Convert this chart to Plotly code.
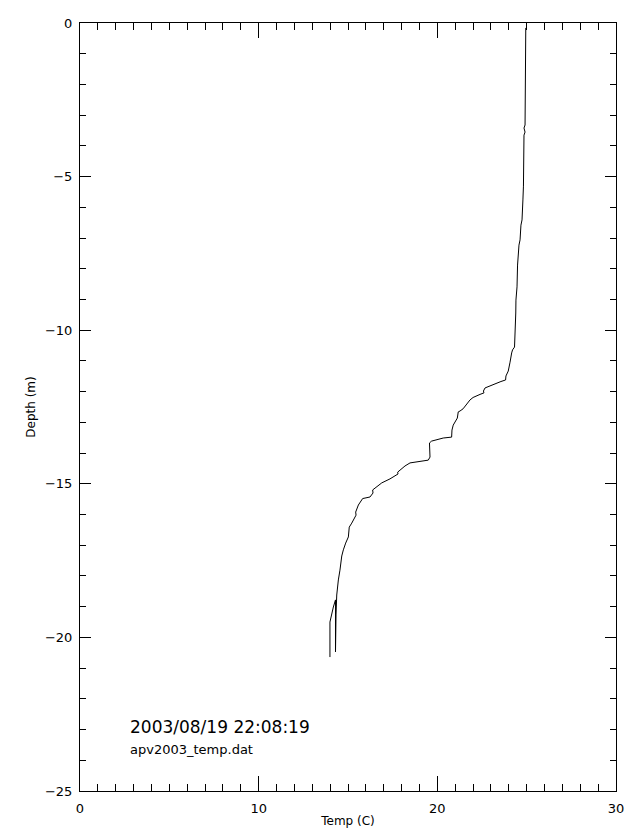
import plotly.graph_objects as go

# Temperature profile
temp_c = [24.95, 24.93, 24.92, 24.91, 24.85, 24.91, 24.85, 24.85, 24.82, 24.79,
          24.78, 24.74, 24.68, 24.63, 24.57, 24.49, 24.46, 24.40, 24.39, 24.35,
          24.32, 24.21, 24.16, 24.07, 23.97, 23.84, 23.82, 23.56, 23.32, 22.95,
          22.67, 22.58, 22.61, 22.39, 22.20, 22.00, 21.83, 21.64, 21.44, 21.27,
          21.17, 21.12, 20.89, 20.82, 20.80, 20.33, 19.93, 19.68, 19.56, 19.59,
          19.59, 19.49, 19.03, 18.47, 18.19, 17.91, 17.78, 17.80, 17.52, 17.35,
          16.89, 16.51, 16.38, 16.40, 16.23, 15.82, 15.58, 15.43, 15.45, 15.21,
          15.07, 15.02, 14.93, 14.87, 14.74, 14.65, 14.55, 14.46, 14.37, 14.33,
          14.30, 14.30, 14.18, 14.09, 13.99, 13.99]
depth_m = [-0.16, -1.20, -2.83, -3.32, -3.42, -3.55, -3.65, -4.72, -5.31, -5.76,
           -6.18, -6.41, -6.58, -7.06, -7.23, -7.88, -8.59, -9.02, -9.44, -10.22,
           -10.55, -10.64, -10.74, -11.04, -11.33, -11.49, -11.62, -11.67, -11.72, -11.82,
           -11.88, -11.98, -12.04, -12.09, -12.13, -12.19, -12.27, -12.43, -12.56, -12.63,
           -12.66, -12.86, -13.09, -13.25, -13.48, -13.51, -13.56, -13.61, -13.67, -13.90,
           -14.13, -14.23, -14.26, -14.32, -14.42, -14.55, -14.62, -14.68, -14.78, -14.84,
           -14.97, -15.14, -15.20, -15.30, -15.43, -15.48, -15.69, -15.92, -16.02, -16.28,
           -16.41, -16.73, -16.83, -16.93, -17.15, -17.35, -17.81, -18.13, -18.62, -19.27,
           -20.47, -18.78, -19.01, -19.21, -19.50, -20.64]

timestamp_text = "2003/08/19 22:08:19"
file_text = "apv2003_temp.dat"
x_title = "Temp (C)"
y_title = "Depth (m)"

FONT = "DejaVu Sans"

fig = go.Figure()
fig.add_trace(go.Scatter(x=temp_c, y=depth_m, mode="lines",
                         line=dict(color="black", width=1), showlegend=False))

axis_common = dict(
    showgrid=False, zeroline=False, showline=True, linecolor="black", linewidth=1,
    mirror="ticks", ticks="inside", tickcolor="black", tickwidth=1,
    tickfont=dict(family=FONT, size=13, color="black"),
)

fig.update_xaxes(range=[0, 30], tickmode="linear", tick0=0, dtick=10, ticklen=15,
                 minor=dict(dtick=1, ticklen=7, ticks="inside", tickcolor="black"),
                 ticklabelstandoff=5,
                 title=dict(text=x_title, font=dict(family=FONT, size=12, color="black"),
                            standoff=2),
                 **axis_common)
fig.update_yaxes(range=[-25, 0], tickmode="linear", tick0=0, dtick=5, ticklen=11,
                 minor=dict(dtick=1, ticklen=6, ticks="inside", tickcolor="black"),
                 ticklabelstandoff=4,
                 title=dict(text=y_title, font=dict(family=FONT, size=12, color="black"),
                            standoff=6),
                 **axis_common)

fig.add_annotation(x=0.0896, y=0.0833, xref="paper", yref="paper", xanchor="left",
                   yanchor="middle", text=timestamp_text, showarrow=False,
                   font=dict(family=FONT, size=17, color="black"))
fig.add_annotation(x=0.0896, y=0.0534, xref="paper", yref="paper", xanchor="left",
                   yanchor="middle", text=file_text, showarrow=False,
                   font=dict(family=FONT, size=13, color="black"))

# the page body adds an 8 px offset, so margins are adjusted to keep the plot frame
# at the reference position
fig.update_layout(width=640, height=840, paper_bgcolor="white", plot_bgcolor="white",
                  margin=dict(l=72, r=32, t=15, b=57, autoexpand=False),
                  font=dict(family=FONT, size=12, color="black"))

fig.write_html("out.html")
